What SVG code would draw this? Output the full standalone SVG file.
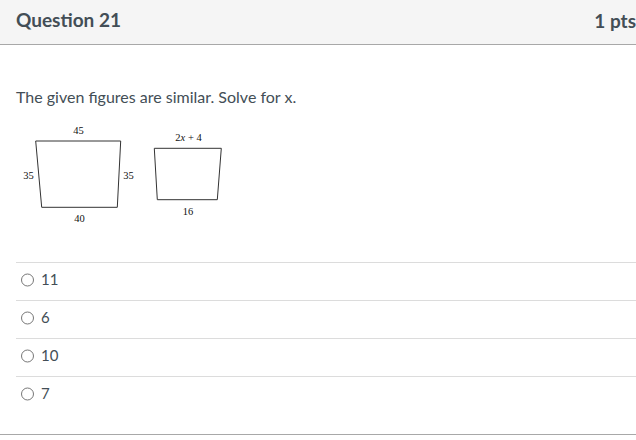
<svg xmlns="http://www.w3.org/2000/svg" width="636" height="440" viewBox="0 0 636 440">
<style>
.ui{font-family:Lato,"Liberation Sans",sans-serif;fill:#434e56}
.hd{font-size:19px;font-weight:bold}
.body{font-size:16px}
.opt{font-size:15px}
.fig{font-family:"Liberation Serif","Times New Roman",serif;font-size:10.5px;fill:#111}
.shape{fill:none;stroke:#333;stroke-width:1}
.sep{stroke:#dcdcdc;stroke-width:1}
.radio{fill:#fff;stroke:#777;stroke-width:1}
</style>
<rect x="0" y="0" width="636" height="440" fill="#fff"/>
<rect x="0" y="0" width="636" height="44" fill="#f5f5f5"/>
<line x1="0" y1="44.5" x2="636" y2="44.5" stroke="#a8a8a8" stroke-width="1"/>
<text class="ui hd" x="16" y="26.5">Question 21</text>
<text class="ui hd" x="636" y="27.5" text-anchor="end">1 pts</text>
<text class="ui body" x="16" y="103">The given figures are similar. Solve for x.</text>
<g id="big-trapezoid">
<polygon class="shape" points="35.7,141 120.7,141 117.3,207.3 41.7,207.3"/>
<text class="fig" x="78.5" y="134" text-anchor="middle">45</text>
<text class="fig" x="28.5" y="178.5" text-anchor="middle">35</text>
<text class="fig" x="128.5" y="178.5" text-anchor="middle">35</text>
<text class="fig" x="79.5" y="221.5" text-anchor="middle">40</text>
</g>
<g id="small-trapezoid">
<polygon class="shape" points="154.3,148.3 221.3,148.3 217.3,199.7 157.3,199.7"/>
<text class="fig" x="188.5" y="141" text-anchor="middle">2<tspan font-style="italic">x</tspan> + 4</text>
<text class="fig" x="188" y="214.5" text-anchor="middle">16</text>
</g>
<g id="options">
<line class="sep" x1="16" y1="262.5" x2="636" y2="262.5"/>
<circle class="radio" cx="27.5" cy="280" r="6"/>
<text class="ui opt" x="41" y="285">11</text>
<line class="sep" x1="16" y1="300.5" x2="636" y2="300.5"/>
<circle class="radio" cx="27.5" cy="318" r="6"/>
<text class="ui opt" x="41" y="323">6</text>
<line class="sep" x1="16" y1="338.5" x2="636" y2="338.5"/>
<circle class="radio" cx="27.5" cy="356" r="6"/>
<text class="ui opt" x="41" y="361">10</text>
<line class="sep" x1="16" y1="376.5" x2="636" y2="376.5"/>
<circle class="radio" cx="27.5" cy="394" r="6"/>
<text class="ui opt" x="41" y="399">7</text>
</g>
<line x1="0" y1="434.5" x2="636" y2="434.5" stroke="#a8a8a8" stroke-width="1"/>
</svg>
